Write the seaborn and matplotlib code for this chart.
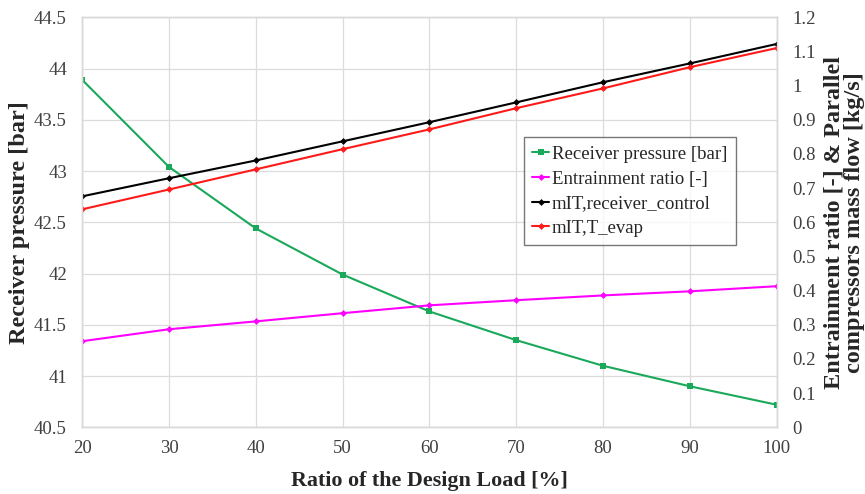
import matplotlib
matplotlib.use("Agg")
import matplotlib.pyplot as plt
import seaborn as sns
import pandas as pd

load = [20, 30, 40, 50, 60, 70, 80, 90, 100]
receiver_pressure = [43.89, 43.04, 42.44, 41.99, 41.63, 41.35, 41.10, 40.90, 40.72]
entrainment_ratio = [0.252, 0.287, 0.310, 0.334, 0.357, 0.372, 0.386, 0.398, 0.413]
m_receiver_control = [0.676, 0.729, 0.781, 0.837, 0.893, 0.951, 1.010, 1.065, 1.122]
m_t_evap = [0.638, 0.696, 0.755, 0.814, 0.872, 0.934, 0.992, 1.054, 1.110]

sns.set_theme(style="whitegrid")
plt.rcParams['font.family'] = ['Liberation Serif', 'DejaVu Serif']

fig, ax = plt.subplots(figsize=(8.65, 4.94), dpi=100)
ax2 = ax.twinx()

df = pd.DataFrame({"load": load, "p": receiver_pressure, "er": entrainment_ratio,
                   "mrc": m_receiver_control, "mte": m_t_evap})

green = "#1aa85a"
magenta = "#ff00ff"
sns.lineplot(data=df, x="load", y="p", ax=ax, color=green, marker="s", markersize=4.5,
             markeredgewidth=0, linewidth=1.5, label="Receiver pressure [bar]", legend=False)
sns.lineplot(data=df, x="load", y="er", ax=ax2, color=magenta, marker="D", markersize=3.5,
             markeredgewidth=0, linewidth=1.5, label="Entrainment ratio [-]", legend=False)
sns.lineplot(data=df, x="load", y="mrc", ax=ax2, color="black", marker="D", markersize=3.5,
             markeredgewidth=0, linewidth=1.5, label="mIT,receiver_control", legend=False)
sns.lineplot(data=df, x="load", y="mte", ax=ax2, color="#ff1a1a", marker="D", markersize=3.5,
             markeredgewidth=0, linewidth=1.5, label="mIT,T_evap", legend=False)

ax.set_xlim(20, 100)
ax.set_ylim(40.5, 44.5)
ax.set_yticks([40.5, 41, 41.5, 42, 42.5, 43, 43.5, 44, 44.5])
ax.set_yticklabels(["40.5", "41", "41.5", "42", "42.5", "43", "43.5", "44", "44.5"])
ax.set_xticks(load)
ax2.set_ylim(0, 1.2)
ticks2 = [0, 0.1, 0.2, 0.3, 0.4, 0.5, 0.6, 0.7, 0.8, 0.9, 1, 1.1, 1.2]
ax2.set_yticks(ticks2)
ax2.set_yticklabels(["0", "0.1", "0.2", "0.3", "0.4", "0.5", "0.6", "0.7", "0.8", "0.9", "1", "1.1", "1.2"])
ax2.grid(False)

for a in (ax, ax2):
    a.tick_params(axis="both", labelsize=13.5, length=0, colors="#404040")
    for s in a.spines.values():
        s.set_color("#d9d9d9")
        s.set_linewidth(1)
ax.tick_params(axis="y", pad=11)
ax.tick_params(axis="x", pad=9)
ax2.tick_params(axis="y", pad=11)
ax.grid(True, color="#dcdcdc", linewidth=0.9)
ax.set_facecolor("white")

ax.set_xlabel("Ratio of the Design Load [%]", fontsize=15.8, fontweight="bold", labelpad=10)
ax.set_ylabel("Receiver pressure [bar]", fontsize=17.5, fontweight="bold", labelpad=3)
ax2.set_ylabel("Entrainment ratio [-] & Parallel\ncompressors mass flow [kg/s]", fontsize=17.5,
               fontweight="bold", labelpad=6, linespacing=0.95)

h1, lab1 = ax.get_legend_handles_labels()
h2, lab2 = ax2.get_legend_handles_labels()
leg = ax2.legend(h1 + h2, lab1 + lab2, loc="upper left", bbox_to_anchor=(0.636, 0.707),
                 borderaxespad=0, fontsize=13.5, frameon=True, fancybox=False, handlelength=0.9,
                 handletextpad=0.15, borderpad=0.45, labelspacing=0.4, markerscale=1.0)
leg.get_frame().set_edgecolor("#555555")
leg.get_frame().set_linewidth(1)

fig.subplots_adjust(left=0.095, right=0.898, top=0.965, bottom=0.135)
fig.savefig("out.png", dpi=100)
